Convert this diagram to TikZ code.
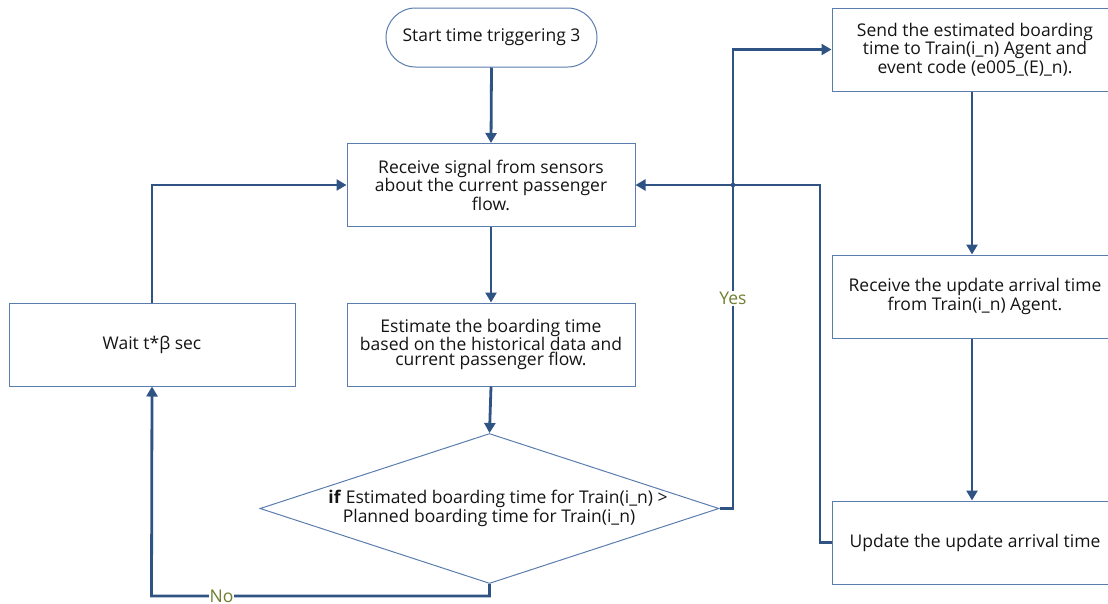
\documentclass[tikz,border=0pt]{standalone}
\usepackage{fontspec}
\setmainfont{Open Sans}
\usetikzlibrary{arrows.meta,shapes.geometric}
\definecolor{linkblue}{HTML}{2F5484}
\definecolor{edgeblue}{HTML}{5B7DAE}
\definecolor{labelgreen}{HTML}{6F7F2F}
\definecolor{ink}{HTML}{141414}

\begin{document}
\begin{tikzpicture}[x=1pt,y=-1pt,
  every node/.style={font=\fontsize{17.5}{14.8}\selectfont, text=ink},
  box/.style={draw=edgeblue, line width=1pt, minimum width=288pt,
    minimum height=83pt, align=center, inner sep=0pt},
  rbox/.style={box, minimum width=286pt},
  startbox/.style={draw=edgeblue, line width=1pt, rounded corners=29.5pt,
    minimum width=211pt, minimum height=59pt, inner sep=0pt},
  decision/.style={draw=edgeblue, line width=1pt, diamond,
    minimum width=459pt, minimum height=150pt, inner sep=0pt},
  conn/.style={draw=linkblue, line width=2.8pt,
    -{Triangle[length=10pt,width=11pt]}},
  flag/.style={text=labelgreen, fill=white, inner sep=1pt}
]
\useasboundingbox (0,0) rectangle (1108,603);

% main column
\node[startbox] (start) at (491.5,37.5) {Start time triggering 3};
\node[box] (recv) at (491,185) {Receive signal from sensors\\about the current passenger\\flow.};
\node[box] (est) at (491,344.5) {Estimate the boarding time\\based on the historical data and\\current passenger flow.};
\node[decision] (diam) at (489.5,508.5) {};
\node[align=center, inner sep=0pt] (cond) at (498,508.5)
  {\textbf{if} Estimated boarding time for Train(i\_n) >\\Planned boarding time for Train(i\_n)\hspace*{18pt}};

% waiting loop
\node[box, minimum width=286pt] (wait) at (152,344.5) {Wait t*β sec};

% right column
\node[rbox] (send) at (975,49.5) {Send the estimated boarding\\time to Train(i\_n) Agent and\\event code (e005\_(E)\_n).};
\node[rbox] (upd) at (975,296.5) {Receive the update arrival time\\from Train(i\_n) Agent.};
\node[rbox] (fin) at (975,542.5) {Update the update arrival time};

% connectors
\coordinate (col) at (972,0);
\draw[conn] (send.south -| col) -- (upd.north -| col);
\draw[conn] (upd.south -| col) -- (fin.north -| col);
\draw[conn] (start.south) -- (recv.north);
\draw[conn] (recv.south) -- (est.north);
\draw[conn] (est.south) -- (diam.north);

\draw[conn] (diam.south) -- ++(0,12) -- ++(-338,0)
  node[flag, pos=0.793] (no) {No} -- (wait.south);
\draw[conn] (wait.north) |- (recv.west);

\coordinate (yesx) at (733,508.5);
\draw[conn] (diam.east) -- (yesx) -- (yesx |- send.west)
  node[flag, pos=0.458] (yes) {Yes} -- (send.west);

\coordinate (finx) at (820,542.5);
\draw[conn] (fin.west) -- (finx) -- (finx |- recv.east) -- (recv.east);
\fill[linkblue] (yesx |- recv.east) circle (2.3pt);
\end{tikzpicture}
\end{document}
